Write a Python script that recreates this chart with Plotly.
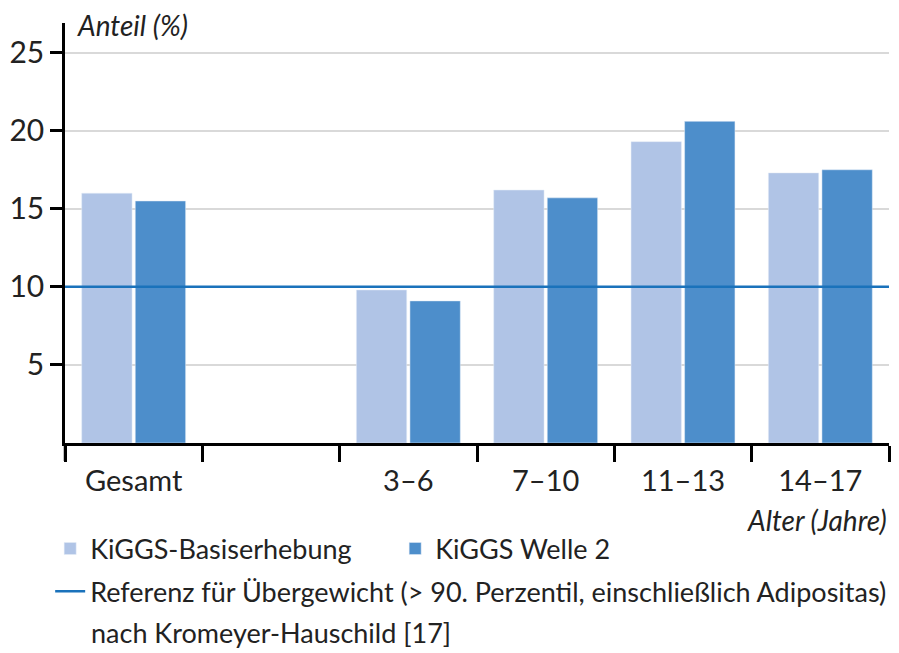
import plotly.graph_objects as go

# Übergewicht bei Kindern und Jugendlichen, KiGGS
categories = ["Gesamt", " ", "3–6", "7–10", "11–13", "14–17"]
basis = [16.0, None, 9.8, 16.2, 19.3, 17.3]
welle2 = [15.5, None, 9.1, 15.7, 20.6, 17.5]
referenz = 10
y_ticks = [5, 10, 15, 20, 25]

FONT = "Lato, Liberation Sans, sans-serif"

fig = go.Figure()
fig.add_trace(go.Bar(x=categories, y=basis, name="KiGGS-Basiserhebung",
                     marker_color="#b0c4e6"))
fig.add_trace(go.Bar(x=categories, y=welle2, name="KiGGS Welle 2",
                     marker_color="#4d8ecb"))

# reference line with its own legend entry (second legend, own row)
fig.add_shape(type="line", xref="paper", x0=0, x1=1, y0=referenz, y1=referenz,
              line=dict(color="#1a72bb", width=2.5), showlegend=True, legend="legend2",
              name="Referenz für Übergewicht (> 90. Perzentil, einschließlich Adipositas)")
# y axis line runs down below the x axis
fig.add_shape(type="line", xref="paper", yref="paper", x0=0, x1=0, y0=-0.043, y1=0,
              line=dict(color="black", width=2.5))

fig.add_annotation(text="<i>Anteil (%)</i>", xref="paper", yref="paper",
                   x=0.012, y=0.995, xanchor="left", yanchor="middle",
                   showarrow=False, font=dict(size=28, color="#222", family=FONT))
fig.add_annotation(text="<i>Alter (Jahre)</i>", xref="paper", yref="paper",
                   x=1.0, y=-0.183, xanchor="right", yanchor="middle",
                   showarrow=False, font=dict(size=28, color="#222", family=FONT))
fig.add_annotation(text="nach Kromeyer-Hauschild [17]", xref="paper", yref="paper",
                   x=0.029, y=-0.452, xanchor="left", yanchor="middle",
                   showarrow=False, font=dict(size=27, color="#222", family=FONT))

# page body has an 8px margin, so the figure is 8px smaller than the window
fig.update_layout(
    width=891, height=645,
    margin=dict(l=57, r=10, t=15, b=210, autoexpand=False),
    plot_bgcolor="white", paper_bgcolor="white",
    barmode="group", bargap=0.22, bargroupgap=0.06,
    font=dict(family=FONT, size=28, color="#222"),
    legend=dict(orientation="h", x=-0.018, y=-0.194, xanchor="left", yanchor="top",
                entrywidth=300, entrywidthmode="pixels", itemwidth=30,
                font=dict(size=27, family=FONT), bgcolor="rgba(0,0,0,0)"),
    legend2=dict(orientation="h", x=-0.018, y=-0.296, xanchor="left", yanchor="top",
                 itemwidth=30, font=dict(size=27, family=FONT),
                 bgcolor="rgba(0,0,0,0)"),
)
fig.update_xaxes(type="category", tickson="boundaries", ticks="outside", ticklen=16,
                 tickwidth=2.5, tickcolor="black", showline=True, linecolor="black",
                 linewidth=2.5, showgrid=False, tickfont=dict(size=29),
                 ticklabelstandoff=10, automargin=False)
fig.update_yaxes(range=[0, 26.9], tickvals=y_ticks, ticks="outside", ticklen=12,
                 tickwidth=2.5, tickcolor="black", showline=True, linecolor="black",
                 linewidth=2.5, showgrid=True, gridcolor="#d9d9d9", gridwidth=2,
                 zeroline=False, tickfont=dict(size=30), automargin=False)

fig.write_html("out.html")
